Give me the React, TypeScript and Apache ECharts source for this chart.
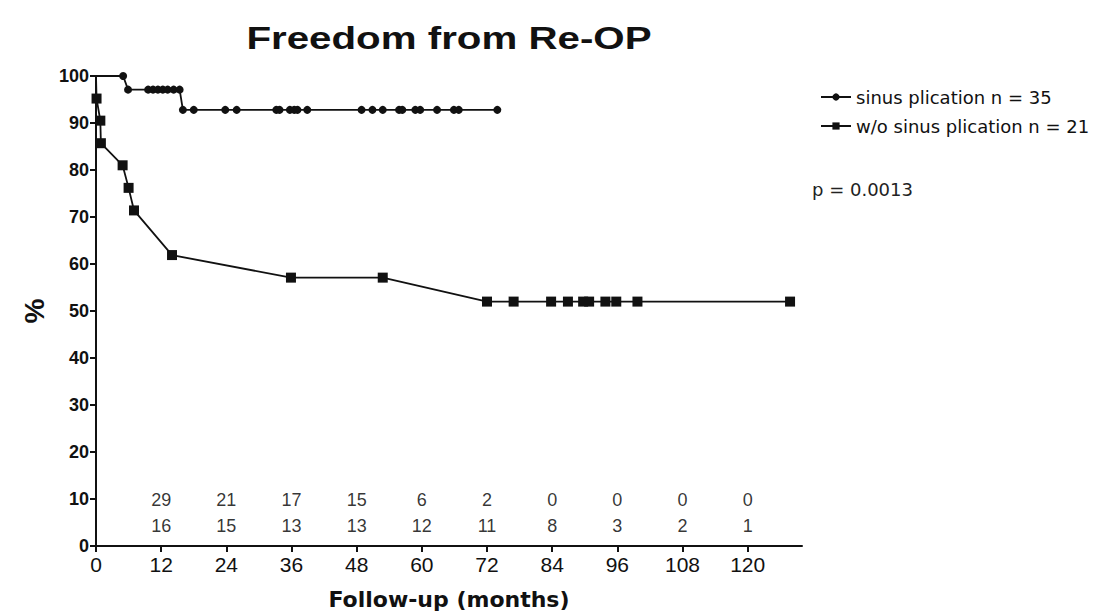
import React, { useEffect, useRef } from "react";
import * as echarts from "echarts";

// Kaplan-Meier curve points (months, % free from re-operation)
const sinusMonths = [0, 5.0, 5.9, 9.6, 10.5, 11.4, 12.3, 13.2, 14.3, 15.4, 16.0, 18.0, 23.8, 25.9, 33.2, 33.8, 35.7, 36.5, 37.1, 38.9, 48.9, 50.9, 52.8, 55.8, 56.4, 58.8, 59.7, 62.8, 65.9, 66.8, 73.9];
const sinusValues = [100, 100, 97.1, 97.1, 97.1, 97.1, 97.1, 97.1, 97.1, 97.1, 92.8, 92.8, 92.8, 92.8, 92.8, 92.8, 92.8, 92.8, 92.8, 92.8, 92.8, 92.8, 92.8, 92.8, 92.8, 92.8, 92.8, 92.8, 92.8, 92.8, 92.8];

const woMonths = [0, 0.1, 0.8, 0.9, 4.9, 6.0, 7.0, 14.0, 35.9, 52.8, 72.0, 76.9, 83.8, 86.9, 89.7, 90.8, 93.8, 95.8, 99.7, 127.8];
const woValues = [100, 95.2, 90.5, 85.7, 81.0, 76.2, 71.4, 61.9, 57.1, 57.1, 52.0, 52.0, 52.0, 52.0, 52.0, 52.0, 52.0, 52.0, 52.0, 52.0];

// Numbers at risk
const riskMonths = [12, 24, 36, 48, 60, 72, 84, 96, 108, 120];
const riskSinus = [29, 21, 17, 15, 6, 2, 0, 0, 0, 0];
const riskWo = [16, 15, 13, 13, 12, 11, 8, 3, 2, 1];
const riskRowSinusY = 9.8;
const riskRowWoY = 4.2;

const xTicks = [0, 12, 24, 36, 48, 60, 72, 84, 96, 108, 120];

const seriesNames = ["sinus plication n = 35", "w/o sinus plication n = 21"];
const titleText = "Freedom from Re-OP";
const pText = "p = 0.0013";

const FONT = '"Liberation Sans", Arial, Helvetica, sans-serif';
const NARROW = '"Liberation Sans Narrow", "Arial Narrow", "Liberation Sans", Arial, sans-serif';

export default function App() {
  const ref = useRef<HTMLDivElement>(null);

  useEffect(() => {
    if (!ref.current) return;
    const chart = echarts.init(ref.current, undefined, { renderer: "svg" });

    const curve = (xs: number[], ys: number[]) =>
      xs.map((x, i) => (i === 0 ? { value: [x, ys[i]], symbol: "none" } : { value: [x, ys[i]] }));

    const risk = (vals: number[], yPos: number) => riskMonths.map((m, i) => [m, yPos, vals[i]]);

    const riskLabel = {
      show: true,
      position: "inside",
      formatter: (p: any) => String(p.value[2]),
      color: "#000",
      fontSize: 18,
      fontFamily: NARROW,
    };

    chart.setOption({
      animation: false,
      backgroundColor: "#fff",
      textStyle: { fontFamily: FONT, color: "#111" },
      grid: { left: 96, right: 310, top: 76, bottom: 57, containLabel: false },
      xAxis: {
        type: "value",
        min: 0,
        max: 130,
        name: "Follow-up (months)",
        nameLocation: "middle",
        nameGap: 42,
        nameTextStyle: { fontFamily: '"DejaVu Sans", sans-serif', fontWeight: "bold", fontSize: 22, color: "#111" },
        splitLine: { show: false },
        axisLine: { show: true, lineStyle: { color: "#111", width: 2 } },
        axisTick: { show: true, length: 6, lineStyle: { color: "#111", width: 2 }, customValues: xTicks },
        axisLabel: { fontSize: 21, fontFamily: NARROW, color: "#111", margin: 8, customValues: xTicks },
      },
      yAxis: {
        type: "value",
        min: 0,
        max: 100,
        interval: 10,
        name: "%",
        nameLocation: "middle",
        nameGap: 42,
        nameRotate: 90,
        nameTextStyle: { fontWeight: "bold", fontSize: 28, color: "#111" },
        splitLine: { show: false },
        axisLine: { show: true, lineStyle: { color: "#111", width: 2 } },
        axisTick: { show: true, length: 6, lineStyle: { color: "#111", width: 2 } },
        axisLabel: { fontSize: 18, fontWeight: "bold", color: "#111", margin: 7 },
      },
      legend: {
        data: seriesNames,
        orient: "vertical",
        left: 815,
        top: 83,
        itemGap: 11,
        itemWidth: 30,
        itemHeight: 9,
        textStyle: { fontFamily: '"DejaVu Sans", sans-serif', fontSize: 18, color: "#111" },
      },
      graphic: [
        {
          type: "text",
          x: 449,
          y: 38,
          scaleX: 1.3,
          style: {
            text: titleText,
            font: 'bold 31px "Liberation Sans", Arial, sans-serif',
            fill: "#111",
            textAlign: "center",
            textVerticalAlign: "middle",
          },
        },
        {
          type: "text",
          left: 812,
          top: 180,
          style: {
            text: pText,
            font: '18px "DejaVu Sans", sans-serif',
            fill: "#222",
          },
        },
      ],
      series: [
        {
          name: seriesNames[0],
          type: "line",
          data: curve(sinusMonths, sinusValues),
          symbol: "circle",
          symbolSize: 8,
          showAllSymbol: true,
          lineStyle: { color: "#111", width: 1.8 },
          itemStyle: { color: "#111" },
          z: 3,
        },
        {
          name: seriesNames[1],
          type: "line",
          data: curve(woMonths, woValues),
          symbol: "rect",
          symbolSize: 10,
          showAllSymbol: true,
          lineStyle: { color: "#111", width: 1.8 },
          itemStyle: { color: "#111" },
          z: 2,
        },
        {
          name: "at risk (sinus plication)",
          type: "scatter",
          data: risk(riskSinus, riskRowSinusY),
          symbolSize: 0,
          silent: true,
          label: riskLabel,
        },
        {
          name: "at risk (w/o sinus plication)",
          type: "scatter",
          data: risk(riskWo, riskRowWoY),
          symbolSize: 0,
          silent: true,
          label: riskLabel,
        },
      ],
    });

    return () => chart.dispose();
  }, []);

  return (
    <div
      ref={ref}
      style={{ position: "absolute", left: 0, top: 0, width: 1112, height: 615, background: "#fff" }}
    />
  );
}
